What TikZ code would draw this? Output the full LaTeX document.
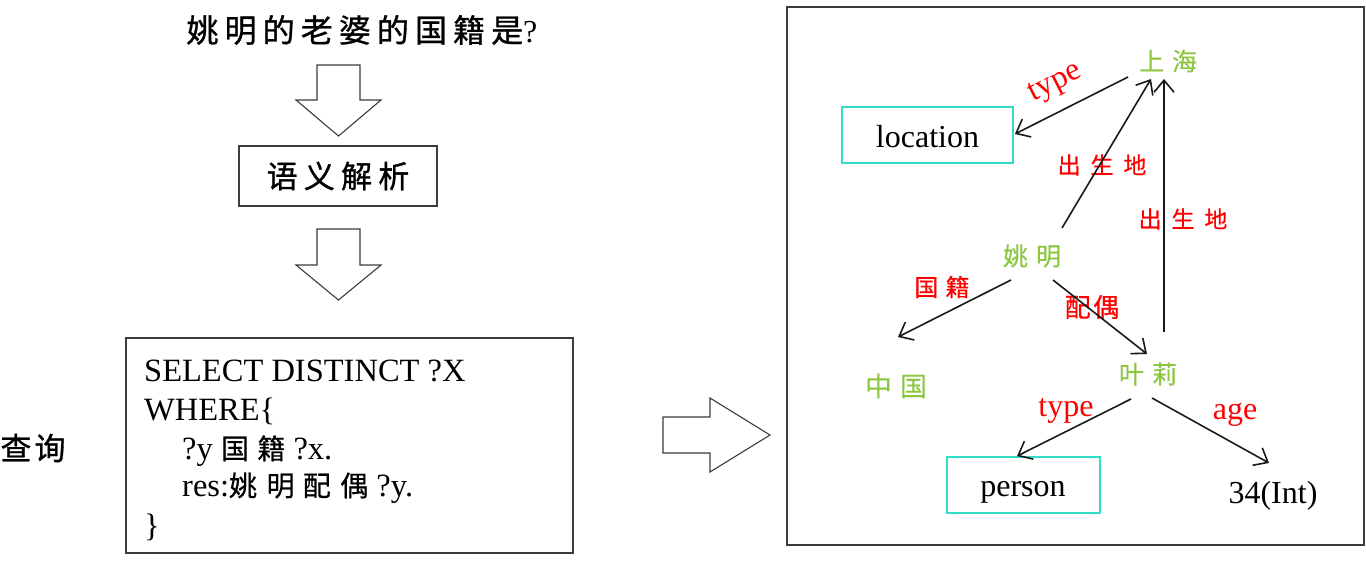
\documentclass[tikz,border=0pt]{standalone}
\usepackage{fontspec}
\setmainfont{Liberation Serif}
\newfontfamily\cjk{Noto Sans CJK SC}
\usetikzlibrary{arrows.meta,calc}
\definecolor{lgreen}{RGB}{140,198,63}
\definecolor{lred}{RGB}{255,0,0}
\definecolor{lcyan}{RGB}{50,222,200}
\definecolor{bgray}{RGB}{60,60,60}
% size, letter spacing, fake bold, text
\newcommand\cjt[4]{{\cjk\fontsize{#1}{#1}\selectfont\addfontfeature{LetterSpace=#2,FakeBold=#3}#4}}
\begin{document}
\begin{tikzpicture}[x=1pt,y=-1pt,
  lat/.style={font=\fontsize{32}{32}\selectfont, inner sep=0pt},
  sql/.style={font=\fontsize{32.5}{32.5}\selectfont, inner sep=0pt, anchor=base west},
  ent/.style={text=lgreen, inner sep=0pt},
  rel/.style={text=lred, inner sep=0pt},
  cbox/.style={draw=lcyan, line width=1.8pt},
  pbox/.style={draw=bgray, line width=1.2pt},
  conn/.style={draw=black!90, line width=1.6pt, -{Straight Barb[length=12pt,width=20pt,line width=1.6pt]}},
  blk/.style={draw=bgray, line width=1.1pt, fill=white}]
\fill[white] (0,0) rectangle (1366,560);
\useasboundingbox (0,0) rectangle (1366,560);

% left column
\node[inner sep=0pt] (title) at (362,30) {\cjt{32}{19}{1}{姚明的老婆的国籍是}{\fontsize{32}{32}\selectfont ?}};
\draw[blk] (317,65) -- (360,65) -- (360,100) -- (381,100) -- (338.5,136) -- (296,100) -- (317,100) -- cycle;
\node[pbox, minimum width=198, minimum height=60] (parse) at (338,176) {\cjt{31}{20}{1}{语义解析}};
\draw[blk] (317,229) -- (360,229) -- (360,265) -- (381,265) -- (338.5,300) -- (296,265) -- (317,265) -- cycle;
\node[pbox, minimum width=447, minimum height=215] (qbox) at (349.5,445.5) {};
\node[sql] (s1) at (144,381) {SELECT DISTINCT ?X};
\node[sql] (s2) at (144,420) {WHERE\{};
\node[sql] (s3) at (182,459) {?y \cjt{28}{30}{0.6}{国籍} ?x.};
\node[sql] (s4) at (182,496) {res:\cjt{28}{34}{0.6}{姚明} \cjt{28}{34}{0.6}{配偶} ?y.};
\node[sql] (s5) at (144,536) {\}};
\node[inner sep=0pt] (query) at (33,448) {\cjt{31}{10}{1}{查询}};
\draw[blk] (663,417) -- (710,417) -- (710,398) -- (770,435) -- (710,472) -- (710,453) -- (663,453) -- cycle;

% right panel
\node[pbox, minimum width=577, minimum height=538] (panel) at (1075.5,276) {};
\node[ent] (sh) at (1168,61) {\cjt{25}{32}{0.3}{上海}};
\node[ent] (ym) at (1032,256) {\cjt{25}{32}{0.3}{姚明}};
\node[ent] (zg) at (896,386) {\cjt{27}{30}{0.3}{中国}};
\node[ent] (yl) at (1148,374) {\cjt{25}{32}{0.3}{叶莉}};
\node[cbox, minimum width=171, minimum height=56] (loc) at (927.5,135) {};
\node[lat, anchor=base] (loct) at (927.5,147) {location};
\node[cbox, minimum width=153, minimum height=56] (per) at (1023.5,485) {};
\node[lat, anchor=base] (pert) at (1023,496) {person};
\node[lat, anchor=base] (int) at (1273,503) {34(Int)};

\node[rel, lat, rotate=27] (t1) at (1056,84) {type};
\node[rel] (b1) at (1102,165) {\cjt{23}{43}{0.6}{出生地}};
\node[rel] (b2) at (1183,219) {\cjt{23}{43}{0.6}{出生地}};
\node[rel] (gj) at (942,287) {\cjt{24}{30}{0.6}{国籍}};
\node[rel] (po) at (1092,307) {\cjt{26}{10}{0.6}{配偶}};
\node[rel, lat, anchor=base] (t2) at (1066,416) {type};
\node[rel, lat, anchor=base] (ag) at (1235,419) {age};

\draw[conn] ($(sh)+(-40,16)$) -- ($(loc.east)+(1,-1)$);
\draw[conn] ($(ym)+(30,-28)$) -- ($(sh)+(-17,18)$);
\draw[conn] ($(yl)+(16,-42)$) -- ($(sh)+(-4,18)$);
\draw[conn] ($(ym)+(-21,24)$) -- ($(zg)+(2,-49)$);
\draw[conn] ($(ym)+(21,24)$) -- ($(yl)+(-1,-20)$);
\draw[conn] ($(yl)+(-17,25)$) -- ($(per.north)+(-6.5,0)$);
\draw[conn] ($(yl)+(4,24)$) -- ($(int.base)+(-4,-40)$);
\end{tikzpicture}
\end{document}
